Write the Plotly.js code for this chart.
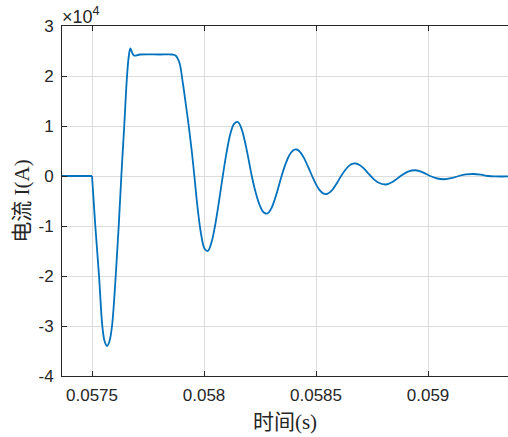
<!DOCTYPE html>
<html>
<head>
<meta charset="utf-8">
<script src="https://cdn.plot.ly/plotly-3.0.1.min.js"></script>
<style>html,body{margin:0;padding:0;background:#fff;}#chart{width:508px;height:437px;}</style>
</head>
<body>
<div id="chart"></div>
<script>
// time (s) and current (A)
var time = [0.0573600,
  0.0575000, 0.0575147, 0.0575313, 0.0575460, 0.0575558, 0.0575670, 0.0575782, 0.0575893, 0.0576058, 0.0576192,
  0.0576309, 0.0576438, 0.0576563, 0.0576643, 0.0576710, 0.0576764, 0.0576818, 0.0576876, 0.0576965, 0.0577144,
  0.0578037, 0.0578573, 0.0578729, 0.0578899, 0.0579051, 0.0579198, 0.0579332, 0.0579457, 0.0579569,
  0.0579718, 0.0579868, 0.0580018, 0.0580167, 0.0580335, 0.0580502, 0.0580670, 0.0580837,
  0.0581007, 0.0581172, 0.0581342, 0.0581511, 0.0581668, 0.0581820, 0.0581976, 0.0582132,
  0.0582306, 0.0582481, 0.0582655, 0.0582829, 0.0582987, 0.0583146, 0.0583305, 0.0583463,
  0.0583633, 0.0583803, 0.0583972, 0.0584142, 0.0584312, 0.0584481, 0.0584653, 0.0584825,
  0.0584990, 0.0585151, 0.0585316, 0.0585482, 0.0585642, 0.0585799, 0.0585960, 0.0586120,
  0.0586286, 0.0586446, 0.0586612, 0.0586777, 0.0586942, 0.0587107, 0.0587272, 0.0587438,
  0.0587777, 0.0588117, 0.0588447, 0.0588778,
  0.0589108, 0.0589439, 0.0589765, 0.0590095,
  0.0590412, 0.0590729, 0.0591046, 0.0591368,
  0.0591698, 0.0592029, 0.0592355, 0.0592685,
  0.0592998, 0.0593311, 0.0593623, 0.0593936];
var current = [0,
  0, -10000, -20000, -30000, -33000, -34000, -33000, -30000, -20000, -10000,
  0, 10000, 20000, 24000, 25500, 25000, 24400, 24100, 24100, 24300,
  24300, 24300, 24100, 22700, 18700, 14000, 9500, 4800, 0,
  -6570, -11600, -14490, -15000, -13250, -9700, -5030, 0,
  4730, 8350, 10430, 10800, 9540, 6990, 3620, 0,
  -3290, -5800, -7250, -7500, -6620, -4850, -2510, 0,
  2320, 4100, 5120, 5300, 4680, 3430, 1780, 0,
  -1580, -2780, -3480, -3600, -3180, -2330, -1210, 0,
  1100, 1930, 2420, 2500, 2210, 1620, 840, 0,
  -1310, -1700, -1100, 0,
  890, 1150, 740, 0,
  -500, -650, -420, 0,
  310, 400, 260, 0,
  -80, -100, -65, 0];
var xTicks = [0.0575, 0.058, 0.0585, 0.059];
var xTickText = ['0.0575', '0.058', '0.0585', '0.059'];
var yTicks = [-40000, -30000, -20000, -10000, 0, 10000, 20000, 30000];
var yTickText = ['-4', '-3', '-2', '-1', '0', '1', '2', '3'];

var lineStyle = {color: '#0072BD', width: 1.8};
var traces = [
  {x: time.slice(0, 2), y: current.slice(0, 2), mode: 'lines', line: lineStyle, hoverinfo: 'skip'},
  {x: time.slice(1), y: current.slice(1), mode: 'lines',
   line: Object.assign({shape: 'spline', smoothing: 1, simplify: false}, lineStyle), hoverinfo: 'skip'}
];
var tickFont = {family: 'Liberation Sans, Arial, sans-serif', size: 17, color: '#262626'};
var titleFont = {family: 'Liberation Serif, Noto Sans CJK SC, serif', size: 21, color: '#262626'};
var layout = {
  width: 508, height: 437,
  margin: {l: 62, r: 0, t: 26, b: 61},
  paper_bgcolor: '#ffffff', plot_bgcolor: '#ffffff',
  showlegend: false,
  xaxis: {
    range: [0.057366, 0.059357],
    tickvals: xTicks, ticktext: xTickText,
    ticks: 'inside', ticklen: 5, tickcolor: '#262626', tickwidth: 1,
    showline: true, linecolor: '#262626', linewidth: 1, mirror: 'ticks',
    showgrid: true, gridcolor: '#dcdcdc', gridwidth: 1,
    zeroline: false, tickfont: tickFont, ticklabelstandoff: 4,
    title: {text: '时间(s)', font: titleFont, standoff: 9}
  },
  yaxis: {
    range: [-40000, 30000],
    tickvals: yTicks, ticktext: yTickText,
    ticks: 'inside', ticklen: 5, tickcolor: '#262626', tickwidth: 1,
    showline: true, linecolor: '#262626', linewidth: 1,
    showgrid: true, gridcolor: '#dcdcdc', gridwidth: 1,
    zeroline: false, tickfont: tickFont, ticklabelstandoff: 4,
    title: {text: '电流 I(A)', font: titleFont, standoff: 3}
  },
  annotations: [{
    xref: 'paper', yref: 'paper', x: 0, y: 1, xanchor: 'left', yanchor: 'bottom',
    text: '×10<sup>4</sup>', showarrow: false, xshift: -2, yshift: -3,
    font: {family: 'Liberation Sans, Arial, sans-serif', size: 18, color: '#262626'}
  }]
};
Plotly.newPlot('chart', traces, layout, {displayModeBar: false, staticPlot: true});
</script>
</body>
</html>
